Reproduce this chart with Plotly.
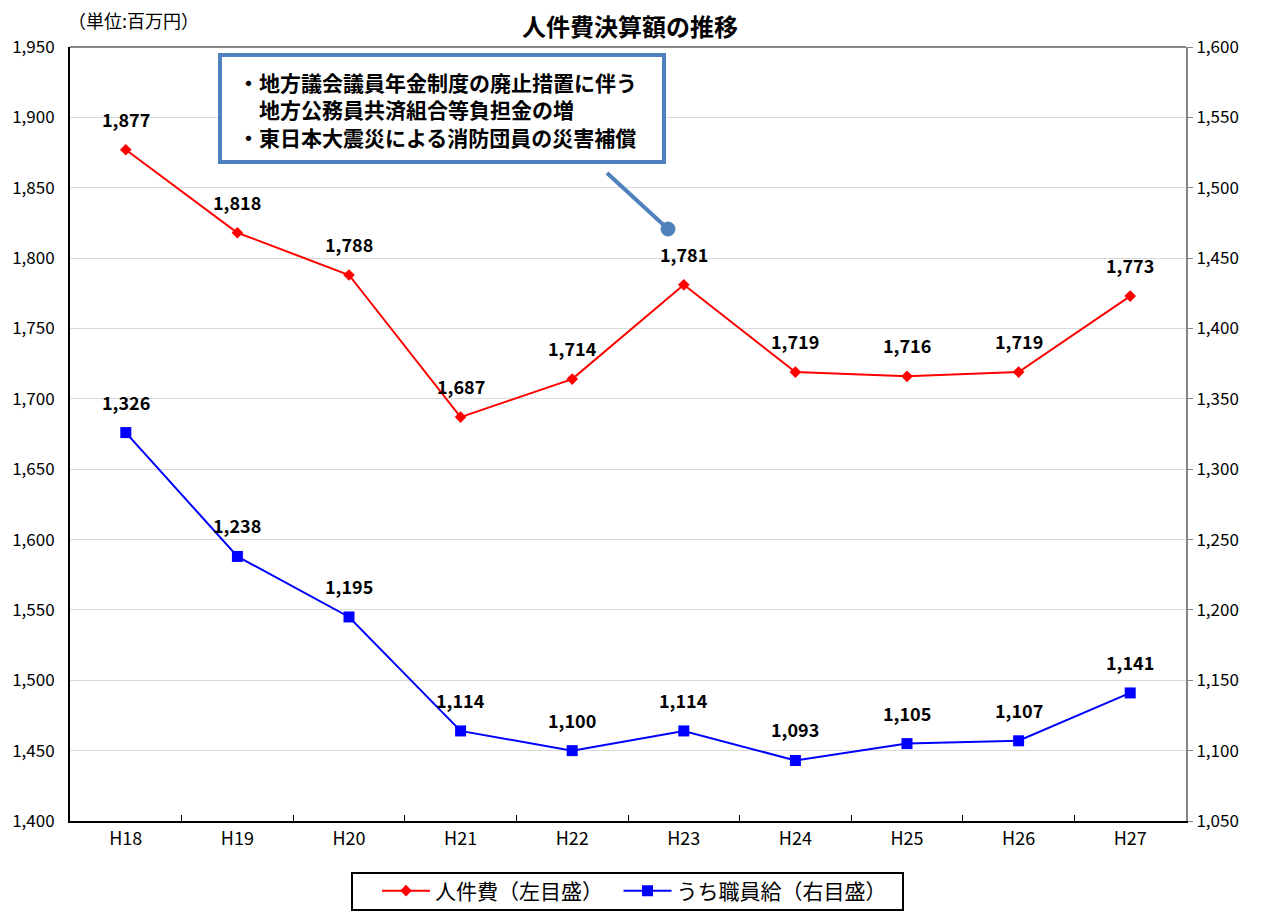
import plotly.graph_objects as go

categories = ["H18", "H19", "H20", "H21", "H22", "H23", "H24", "H25", "H26", "H27"]
personnel = [1877, 1818, 1788, 1687, 1714, 1781, 1719, 1716, 1719, 1773]
salary = [1326, 1238, 1195, 1114, 1100, 1114, 1093, 1105, 1107, 1141]
left_ticks = list(range(1400, 1951, 50))
right_ticks = list(range(1050, 1601, 50))

FONT = "Noto Sans CJK JP"

fig = go.Figure()
fig.add_trace(go.Scatter(
    x=categories, y=personnel, mode="lines+markers", name="人件費（左目盛）\u3000",
    line=dict(color="#FF0000", width=2),
    marker=dict(symbol="diamond", size=9, color="#FF0000"),
    yaxis="y",
))
fig.add_trace(go.Scatter(
    x=categories, y=salary, mode="lines+markers", name="うち職員給（右目盛）",
    line=dict(color="#0000FF", width=2),
    marker=dict(symbol="square", size=11, color="#0000FF"),
    yaxis="y2",
))

annotations = []
for c, v in zip(categories, personnel):
    annotations.append(dict(x=c, y=v, xref="x", yref="y", text=f"<b>{v:,}</b>",
                            showarrow=False, yshift=31,
                            font=dict(family=FONT, size=18, color="black")))
for c, v in zip(categories, salary):
    annotations.append(dict(x=c, y=v, xref="x", yref="y2", text=f"<b>{v:,}</b>",
                            showarrow=False, yshift=31,
                            font=dict(family=FONT, size=18, color="black")))

# Plot area in screen pixels (page has 8px body margin)
PL, PR, PT, PB = 70, 1186, 47, 821

def px_x(p):
    return (p - PL) / (PR - PL)

def px_y(p):
    return (PB - p) / (PB - PT)

# Title
annotations.append(dict(x=px_x(630), y=px_y(25), xref="paper", yref="paper",
                        xanchor="center", yanchor="middle", showarrow=False,
                        text="<b>人件費決算額の推移</b>",
                        font=dict(family=FONT, size=24, color="black")))

# Unit label
annotations.append(dict(x=px_x(66), y=px_y(20), xref="paper", yref="paper",
                        xanchor="left", yanchor="middle", showarrow=False,
                        text="（単位:百万円）", font=dict(family=FONT, size=18, color="black")))

# Callout text
callout_text = ("<b>・地方議会議員年金制度の廃止措置に伴う</b><br>"
                "<b>　地方公務員共済組合等負担金の増</b><br>"
                "<b>・東日本大震災による消防団員の災害補償</b>")
annotations.append(dict(x=px_x(236), y=px_y(109), xref="paper", yref="paper",
                        xanchor="left", yanchor="middle", align="left", showarrow=False,
                        text=callout_text, font=dict(family=FONT, size=21, color="black")))

shapes = [
    # top border
    dict(type="line", xref="paper", yref="paper", x0=0, x1=1, y0=1, y1=1,
         line=dict(color="#868686", width=2)),
    # callout box
    dict(type="rect", xref="paper", yref="paper", x0=px_x(220), x1=px_x(664),
         y0=px_y(162), y1=px_y(55), line=dict(color="#4F81BD", width=4), fillcolor="white"),
    # connector line
    dict(type="line", xref="paper", yref="paper", x0=px_x(607), y0=px_y(173),
         x1=px_x(668), y1=px_y(229), line=dict(color="#4F81BD", width=4)),
    dict(type="circle", xref="paper", yref="paper", x0=px_x(661), x1=px_x(675),
         y0=px_y(236), y1=px_y(222), line=dict(color="#4F81BD", width=1), fillcolor="#4F81BD"),
    # legend frame
    dict(type="rect", xref="paper", yref="paper", x0=px_x(352), x1=px_x(903),
         y0=px_y(910), y1=px_y(873), line=dict(color="black", width=2), fillcolor="rgba(0,0,0,0)"),
]

W, H = 1254, 904
fig.update_layout(
    template="none",
    width=W, height=H,
    margin=dict(l=PL - 8, r=W + 8 - PR, t=PT - 8, b=H + 8 - PB, autoexpand=False),
    paper_bgcolor="white", plot_bgcolor="white",
    font=dict(family=FONT, size=17, color="black"),
    xaxis=dict(type="category", range=[-0.5, 9.5], showline=True, linecolor="black", linewidth=2,
               tickson="boundaries", ticks="inside", ticklen=6, tickcolor="black", automargin=False,
               showgrid=False, tickfont=dict(family=FONT, size=18, color="black")),
    yaxis=dict(range=[1400, 1950], tickvals=left_ticks, ticktext=[f"{t:,}" for t in left_ticks],
               showline=True, linecolor="black", linewidth=2, ticks="", ticklabelstandoff=10,
               automargin=False,
               showgrid=True, gridcolor="#D9D9D9", gridwidth=1, zeroline=False,
               tickfont=dict(family=FONT, size=17, color="black")),
    yaxis2=dict(range=[1050, 1600], tickvals=right_ticks, ticktext=[f"{t:,}" for t in right_ticks],
                overlaying="y", side="right", showline=True, linecolor="#868686", linewidth=2,
                ticks="outside", ticklen=5, tickcolor="#868686", showgrid=False, zeroline=False,
                automargin=False,
                tickfont=dict(family=FONT, size=17, color="black")),
    legend=dict(orientation="h", x=px_x(377), xanchor="left", y=px_y(891), yanchor="middle",
                borderwidth=0, bgcolor="rgba(0,0,0,0)",
                itemwidth=48,
                font=dict(family=FONT, size=21, color="black")),
    annotations=annotations,
    shapes=shapes,
    showlegend=True,
)

fig.write_html("out.html")
